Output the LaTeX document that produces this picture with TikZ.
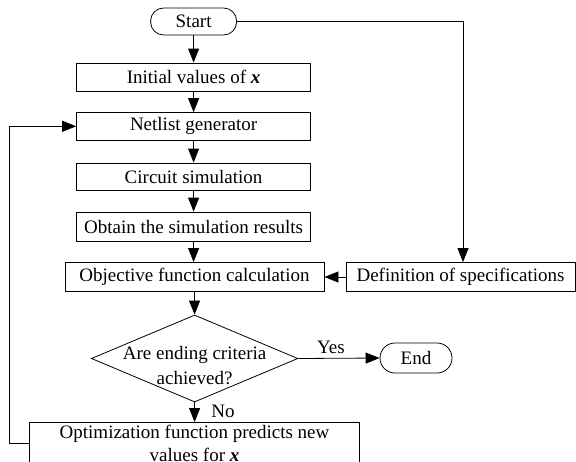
\documentclass[tikz,border=0pt]{standalone}
\usepackage{fontspec}
\setmainfont{Liberation Serif}
\usetikzlibrary{arrows.meta,shapes.geometric}
\begin{document}
\begin{tikzpicture}[x=1pt,y=-1pt,
  font=\fontsize{19}{23}\selectfont,
  box/.style={draw, line width=0.8pt, inner sep=0pt, minimum width=234pt, minimum height=28pt},
  term/.style={draw, line width=0.8pt, rounded corners=13pt, inner sep=0pt},
  arr/.style={line width=0.8pt, -{Triangle[length=14pt,width=11pt]}},
  lbl/.style={inner sep=0pt}]
\useasboundingbox (0,0) rectangle (576,461);
\clip (0,0) rectangle (576,461);
\node[term, minimum width=86pt, minimum height=27pt] (start) at (193.6,21.5) {Start};
\node[box] (init) at (193.6,77) {Initial values of \textbf{\textit{x}}};
\node[box, minimum height=27.5pt] (net) at (193.6,126.3) {Netlist generator};
\node[box, minimum height=27pt] (circ) at (193.6,176.5) {Circuit simulation};
\node[box, minimum height=29pt] (obt) at (193.6,226.5) {Obtain the simulation results};
\node[box, minimum width=259pt, minimum height=29pt] (obj) at (194.5,277) {Objective function calculation};
\node[box, minimum width=229pt, minimum height=29pt] (def) at (460.5,277) {Definition of specifications};
\node[diamond, draw, line width=0.8pt, inner sep=0pt, minimum width=206.5pt, minimum height=87pt] (dia) at (194.6,358.5) {};
\node[lbl, align=center, font=\fontsize{19}{25}\selectfont] (diatext) at (194.6,366) {Are ending criteria\\achieved?};
\node[term, rounded corners=15pt, minimum width=72pt, minimum height=30pt] (end) at (416,358) {End};
\node[draw, line width=0.8pt, minimum width=330pt, minimum height=60pt, inner sep=0pt] (opt) at (194.5,452.5) {};
\node[lbl, align=center] (opttext) at (194.5,443) {Optimization function predicts new\\values for \textbf{\textit{x}}};
\node[lbl] (yes) at (331,347.5) {Yes};
\node[lbl] (no) at (223,411.5) {No};
\draw[arr] (start) -- (init);
\draw[arr] (init) -- (net);
\draw[arr] (net) -- (circ);
\draw[arr] (circ) -- (obt);
\draw[arr] (obt.south) -- (obt.south |- obj.north);
\draw[arr] (obj.south) -- (dia.north);
\draw[arr] (def) -- (obj);
\draw[arr] (start.east) -| ([xshift=2.5pt]def.north);
\draw[arr] (dia.east) -- (end.west);
\draw[arr] (dia.south) -- (dia.south |- opt.north);
\draw[arr] (opttext -| opt.west) -- ++(-20,0) |- (net.west);
\end{tikzpicture}
\end{document}
